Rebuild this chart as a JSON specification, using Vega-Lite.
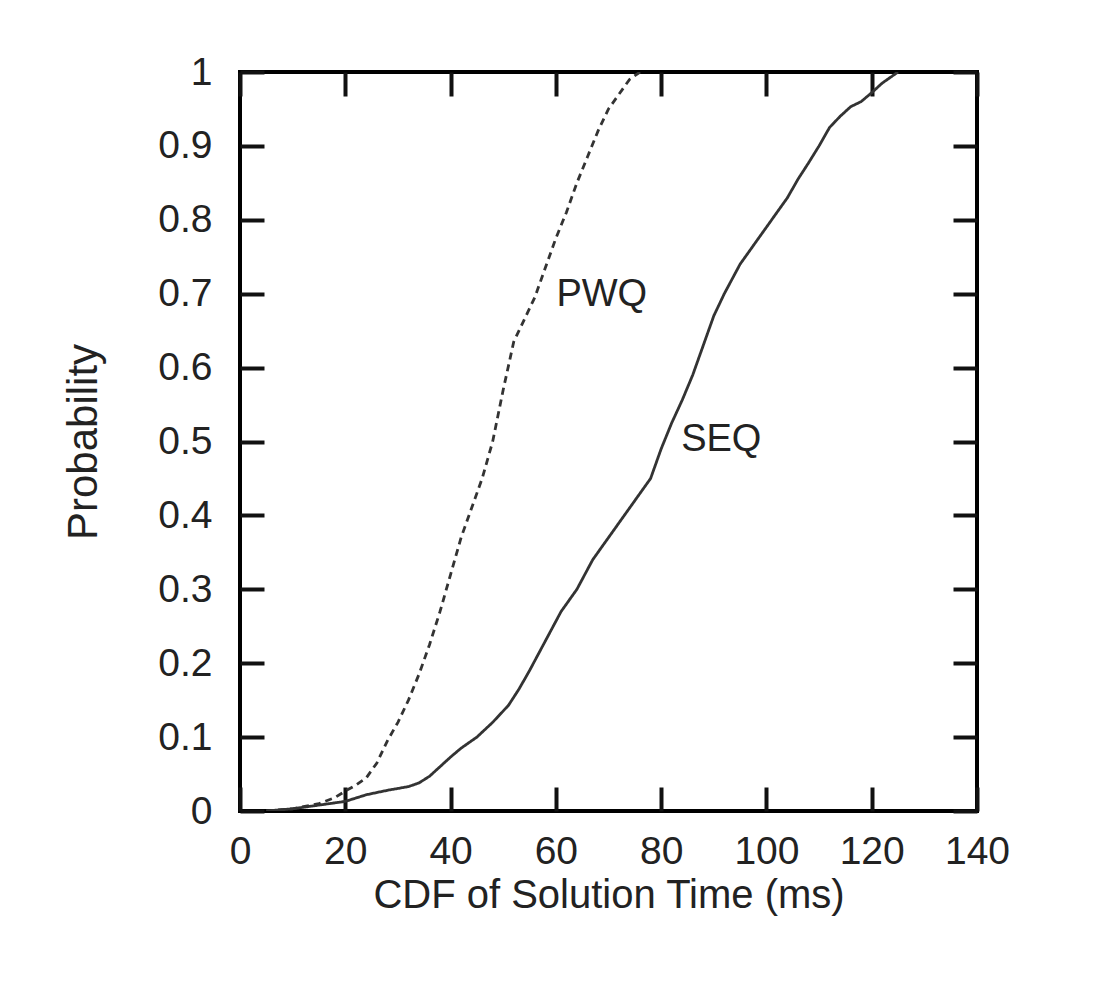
{
  "$schema": "https://vega.github.io/schema/vega-lite/v6.json",
  "width": 737,
  "height": 739,
  "autosize": "none",
  "padding": {"left": 240, "top": 72, "right": 118, "bottom": 194},
  "background": "white",
  "config": {
    "view": {"stroke": "black", "strokeWidth": 4},
    "font": "Liberation Sans",
    "axis": {
      "domain": false,
      "grid": false,
      "tickColor": "#111",
      "tickWidth": 4,
      "tickSize": -24,
      "labelFont": "Liberation Sans",
      "labelFontSize": 39,
      "labelColor": "#222",
      "labelFlush": false,
      "labelOverlap": false,
      "titleFont": "Liberation Sans",
      "titleFontSize": 40,
      "titleFontWeight": "normal",
      "titleColor": "#222"
    }
  },
  "datasets": {
    "curves": [
      {"series": "PWQ", "time": 5, "prob": 0},
      {"series": "PWQ", "time": 10, "prob": 0.003},
      {"series": "PWQ", "time": 15, "prob": 0.01},
      {"series": "PWQ", "time": 18, "prob": 0.018},
      {"series": "PWQ", "time": 20, "prob": 0.027},
      {"series": "PWQ", "time": 22, "prob": 0.035},
      {"series": "PWQ", "time": 24, "prob": 0.045},
      {"series": "PWQ", "time": 26, "prob": 0.065},
      {"series": "PWQ", "time": 28, "prob": 0.095},
      {"series": "PWQ", "time": 30, "prob": 0.12},
      {"series": "PWQ", "time": 32, "prob": 0.15},
      {"series": "PWQ", "time": 34, "prob": 0.185},
      {"series": "PWQ", "time": 36, "prob": 0.225},
      {"series": "PWQ", "time": 38, "prob": 0.27},
      {"series": "PWQ", "time": 40, "prob": 0.32},
      {"series": "PWQ", "time": 42, "prob": 0.37},
      {"series": "PWQ", "time": 44, "prob": 0.41},
      {"series": "PWQ", "time": 46, "prob": 0.45},
      {"series": "PWQ", "time": 48, "prob": 0.5},
      {"series": "PWQ", "time": 50, "prob": 0.57},
      {"series": "PWQ", "time": 52, "prob": 0.635},
      {"series": "PWQ", "time": 54, "prob": 0.665},
      {"series": "PWQ", "time": 56, "prob": 0.695},
      {"series": "PWQ", "time": 58, "prob": 0.735},
      {"series": "PWQ", "time": 60, "prob": 0.775},
      {"series": "PWQ", "time": 62, "prob": 0.81},
      {"series": "PWQ", "time": 64, "prob": 0.85},
      {"series": "PWQ", "time": 66, "prob": 0.885},
      {"series": "PWQ", "time": 68, "prob": 0.92},
      {"series": "PWQ", "time": 70, "prob": 0.95},
      {"series": "PWQ", "time": 72, "prob": 0.97},
      {"series": "PWQ", "time": 74, "prob": 0.99},
      {"series": "PWQ", "time": 76, "prob": 1.0},
      {"series": "SEQ", "time": 5, "prob": 0},
      {"series": "SEQ", "time": 10, "prob": 0.003},
      {"series": "SEQ", "time": 15, "prob": 0.008},
      {"series": "SEQ", "time": 20, "prob": 0.013},
      {"series": "SEQ", "time": 24, "prob": 0.022},
      {"series": "SEQ", "time": 28, "prob": 0.028},
      {"series": "SEQ", "time": 32, "prob": 0.033},
      {"series": "SEQ", "time": 34, "prob": 0.038},
      {"series": "SEQ", "time": 36, "prob": 0.047},
      {"series": "SEQ", "time": 38, "prob": 0.06},
      {"series": "SEQ", "time": 40, "prob": 0.073},
      {"series": "SEQ", "time": 42, "prob": 0.085},
      {"series": "SEQ", "time": 45, "prob": 0.1},
      {"series": "SEQ", "time": 48, "prob": 0.12},
      {"series": "SEQ", "time": 51, "prob": 0.143},
      {"series": "SEQ", "time": 53, "prob": 0.165},
      {"series": "SEQ", "time": 55, "prob": 0.19},
      {"series": "SEQ", "time": 58, "prob": 0.23},
      {"series": "SEQ", "time": 61, "prob": 0.27},
      {"series": "SEQ", "time": 64, "prob": 0.3},
      {"series": "SEQ", "time": 67, "prob": 0.34},
      {"series": "SEQ", "time": 70, "prob": 0.37},
      {"series": "SEQ", "time": 73, "prob": 0.4},
      {"series": "SEQ", "time": 76, "prob": 0.43},
      {"series": "SEQ", "time": 78, "prob": 0.45},
      {"series": "SEQ", "time": 80, "prob": 0.49},
      {"series": "SEQ", "time": 82, "prob": 0.525},
      {"series": "SEQ", "time": 84, "prob": 0.556},
      {"series": "SEQ", "time": 86, "prob": 0.59},
      {"series": "SEQ", "time": 88, "prob": 0.63},
      {"series": "SEQ", "time": 90, "prob": 0.67},
      {"series": "SEQ", "time": 92, "prob": 0.7},
      {"series": "SEQ", "time": 95, "prob": 0.74},
      {"series": "SEQ", "time": 98, "prob": 0.77},
      {"series": "SEQ", "time": 101, "prob": 0.8},
      {"series": "SEQ", "time": 104, "prob": 0.83},
      {"series": "SEQ", "time": 106, "prob": 0.855},
      {"series": "SEQ", "time": 108, "prob": 0.877},
      {"series": "SEQ", "time": 110, "prob": 0.9},
      {"series": "SEQ", "time": 112, "prob": 0.925},
      {"series": "SEQ", "time": 114, "prob": 0.94},
      {"series": "SEQ", "time": 116, "prob": 0.953},
      {"series": "SEQ", "time": 118, "prob": 0.96},
      {"series": "SEQ", "time": 120, "prob": 0.972},
      {"series": "SEQ", "time": 122, "prob": 0.985},
      {"series": "SEQ", "time": 125, "prob": 1.0}
    ],
    "labels": [
      {"series": "PWQ", "time": 60.1, "prob": 0.698},
      {"series": "SEQ", "time": 83.8, "prob": 0.502}
    ]
  },
  "layer": [
    {
      "data": {"name": "curves"},
      "mark": {"type": "line", "strokeWidth": 2.8, "color": "#333", "clip": true},
      "encoding": {
        "x": {
          "field": "time", "type": "quantitative",
          "scale": {"domain": [0, 140], "nice": false},
          "axis": {"orient": "bottom", "values": [0, 20, 40, 60, 80, 100, 120, 140], "labelPadding": 45, "labelDx": 5, "title": "CDF of Solution Time (ms)", "titlePadding": 4}
        },
        "y": {
          "field": "prob", "type": "quantitative",
          "scale": {"domain": [0, 1], "nice": false},
          "axis": {"orient": "left", "values": [0, 0.1, 0.2, 0.3, 0.4, 0.5, 0.6, 0.7, 0.8, 0.9, 1], "format": "~g", "labelPadding": 52, "title": "Probability", "titleFontSize": 42, "titlePadding": 52}
        },
        "detail": {"field": "series"},
        "strokeDash": {
          "field": "series", "type": "nominal",
          "scale": {"domain": ["PWQ", "SEQ"], "range": [[7, 5], [1, 0]]},
          "legend": null
        }
      }
    },
    {
      "data": {"name": "labels"},
      "mark": {"type": "text", "align": "left", "baseline": "middle", "fontSize": 38, "font": "Liberation Sans", "color": "#222"},
      "encoding": {
        "x": {"field": "time", "type": "quantitative", "axis": {"orient": "top", "values": [0, 20, 40, 60, 80, 100, 120, 140], "labels": false, "title": null}},
        "y": {"field": "prob", "type": "quantitative", "axis": {"orient": "right", "values": [0, 0.1, 0.2, 0.3, 0.4, 0.5, 0.6, 0.7, 0.8, 0.9, 1], "labels": false, "title": null}},
        "text": {"field": "series"}
      }
    }
  ],
  "resolve": {"axis": {"x": "independent", "y": "independent"}}
}
